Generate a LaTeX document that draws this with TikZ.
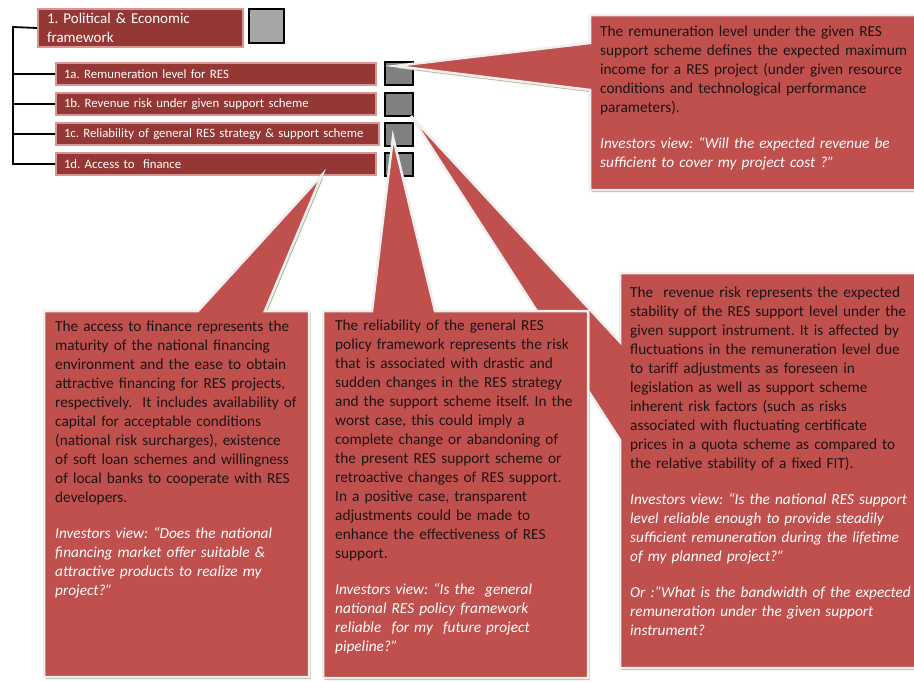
\documentclass[tikz,border=0pt]{standalone}
\usepackage{fontspec}
\setmainfont{Carlito}
\frenchspacing
\definecolor{calred}{HTML}{C0504D}
\definecolor{boxred}{HTML}{953735}
\definecolor{boxborder}{HTML}{D99694}
\definecolor{calborder}{HTML}{EFEFEF}
\definecolor{shadowgreen}{HTML}{A7BA8C}
\definecolor{sqbig}{HTML}{A6A6A6}
\definecolor{sqsmall}{HTML}{808080}
\definecolor{bodytext}{HTML}{1E1414}
\begin{document}
\begin{tikzpicture}[x=1pt,y=-1pt,
  mainbox/.style={fill=boxred, draw=boxborder, line width=2pt, text=white, anchor=north west, inner ysep=0pt, align=left},
  subbox/.style={mainbox, minimum height=22, inner xsep=8, font=\fontsize{12.8}{15}\selectfont},
  bigsq/.style={fill=sqbig, draw=black, line width=2pt, anchor=north west, minimum width=35, minimum height=34, inner sep=0pt},
  smallsq/.style={fill=sqsmall, draw=black, line width=2pt, anchor=north west, minimum width=28, minimum height=23, inner sep=0pt},
  tree/.style={draw=black, line width=1.8pt},
  callout/.style={fill=calred, draw=calborder, line width=2.5pt, line join=miter},
  calshadow/.style={fill=shadowgreen, shift={(1.5,2.2)}},
  caltext/.style={anchor=base west, inner sep=0pt, align=left, text=bodytext, font=\fontsize{15.3}{19}\selectfont},
  inv/.style={text=white}
]
\useasboundingbox (0,0) rectangle (914,681);
\fill[white] (0,0) rectangle (914,681);

% main box and sub boxes
\node[mainbox, minimum width=205, minimum height=38, text width=187, inner xsep=9, font=\fontsize{15}{19}\selectfont] (main) at (37,8) {1. Political \& Economic\\framework};
\node[subbox, minimum width=320, text width=304] (s1a) at (55,62) {1a. Remuneration level for RES};
\node[subbox, minimum width=320, text width=304] (s1b) at (55,92) {1b. Revenue risk under given support scheme};
\node[subbox, minimum width=323, text width=307] (s1c) at (55,122) {1c. Reliability of general RES strategy \& support scheme};
\node[subbox, minimum width=320, text width=304] (s1d) at (55,152) {1d. Access to \ finance};

\node[bigsq] (q1) at (248,8) {};
\node[smallsq] (q1a) at (384,61) {};
\node[smallsq] (q1b) at (384,92) {};
\node[smallsq] (q1c) at (384,122) {};
\node[smallsq] (q1d) at (384,152) {};

% tree connectors
\coordinate (trunk) at (13,27);
\draw[tree] (main.west) -- (trunk) |- (s1d.west);
\foreach \n in {s1a,s1b,s1c} \draw[tree] (trunk |- \n.west) -- (\n.west);

% callout 1 (remuneration)
\def\pathA{(590,15) -- (920,15) -- (920,190) -- (590,190) -- (590,90) -- (395,66) -- (590,43) -- cycle}
\fill[calshadow] \pathA;
\draw[callout] \pathA;
% callout 4 (revenue risk)
\def\pathD{(620,273) -- (920,273) -- (920,668) -- (620,668) -- (620,440) -- (411,116) -- (620,342) -- cycle}
\fill[calshadow] \pathD;
\draw[callout] \pathD;
% callout 3 (reliability)
\def\pathC{(323,311) -- (372,311) -- (393,137) -- (435,311) -- (588,311) -- (588,678) -- (323,678) -- cycle}
\fill[calshadow] \pathC;
\draw[callout] \pathC;
% callout 2 (access to finance)
\def\pathB{(44,311) -- (198,311) -- (322,175) -- (265,311) -- (309,311) -- (309,677) -- (44,677) -- cycle}
\fill[calshadow] \pathB;
\draw[callout] \pathB;

% callout texts
\node[caltext, text width=310] (t1) at (600,36) {The remuneration level under the given RES\\
support scheme defines the expected maximum\\
income for a RES project (under given resource\\
conditions and technological performance\\
parameters).\\[17pt]
\textcolor{white}{\itshape Investors view: “Will the expected revenue be}\\
\textcolor{white}{\itshape sufficient to cover my project cost ?”}};

\node[caltext, text width=250] (t2) at (55,331) {The access to finance represents the\\
maturity of the national financing\\
environment and the ease to obtain\\
attractive financing for RES projects,\\
respectively. \ It includes availability of\\
capital for acceptable conditions\\
(national risk surcharges), existence\\
of soft loan schemes and willingness\\
of local banks to cooperate with RES\\
developers.\\[17pt]
\textcolor{white}{\itshape Investors view: “Does the national}\\
\textcolor{white}{\itshape financing market offer suitable \&}\\
\textcolor{white}{\itshape attractive products to realize my}\\
\textcolor{white}{\itshape project?”}};

\node[caltext, text width=250] (t3) at (335,330) {The reliability of the general RES\\
policy framework represents the risk\\
that is associated with drastic and\\
sudden changes in the RES strategy\\
and the support scheme itself. In the\\
worst case, this could imply a\\
complete change or abandoning of\\
the present RES support scheme or\\
retroactive changes of RES support.\\
In a positive case, transparent\\
adjustments could be made to\\
enhance the effectiveness of RES\\
support.\\[17pt]
\textcolor{white}{\itshape Investors view: “Is the \ general}\\
\textcolor{white}{\itshape national RES policy framework}\\
\textcolor{white}{\itshape reliable \ for my \ future project}\\
\textcolor{white}{\itshape pipeline?”}};

\node[caltext, text width=282] (t4) at (630,297) {The \ revenue risk represents the expected\\
stability of the RES support level under the\\
given support instrument. It is affected by\\
fluctuations in the remuneration level due\\
to tariff adjustments as foreseen in\\
legislation as well as support scheme\\
inherent risk factors (such as risks\\
associated with fluctuating certificate\\
prices in a quota scheme as compared to\\
the relative stability of a fixed FIT).\\[17pt]
\textcolor{white}{\itshape Investors view: “Is the national RES support}\\
\textcolor{white}{\itshape level reliable enough to provide steadily}\\
\textcolor{white}{\itshape sufficient remuneration during the lifetime}\\
\textcolor{white}{\itshape of my planned project?”}\\[17pt]
\textcolor{white}{\itshape Or :“What is the bandwidth of the expected}\\
\textcolor{white}{\itshape remuneration under the given support}\\
\textcolor{white}{\itshape instrument?}};
\end{tikzpicture}
\end{document}
